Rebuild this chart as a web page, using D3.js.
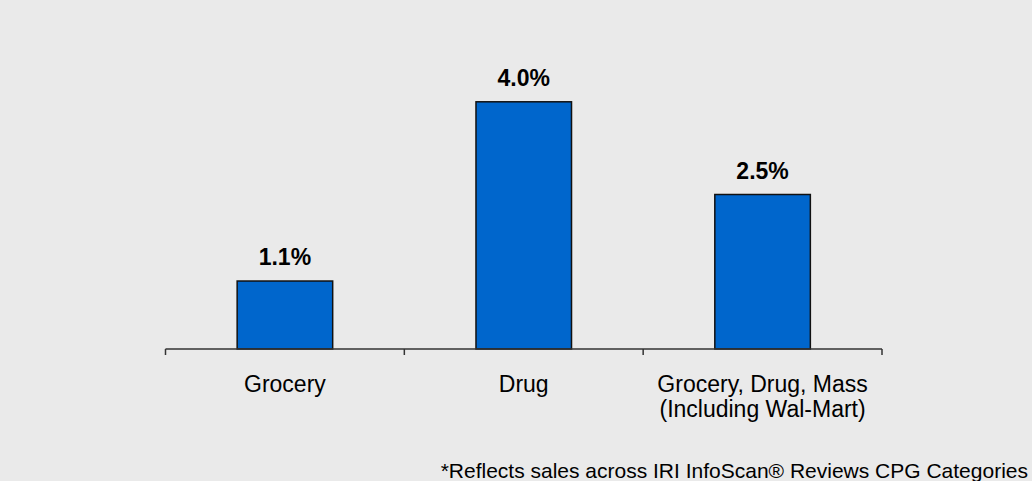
<!DOCTYPE html>
<html>
<head>
<meta charset="utf-8">
<script src="https://cdn.jsdelivr.net/npm/d3@7"></script>
<style>
  html, body { margin: 0; padding: 0; background: #eaeaea; }
  svg { display: block; font-family: Arial, "Liberation Sans", sans-serif; }
</style>
</head>
<body>
<svg id="chart" width="1032" height="481"></svg>
<script>
// Sales growth by channel
const categories = ["Grocery", "Drug", "Grocery, Drug, Mass|(Including Wal-Mart)"];
const growth = [1.1, 4.0, 2.5];
const valueLabels = ["1.1%", "4.0%", "2.5%"];
const footnote = "*Reflects sales across IRI InfoScan\u00AE Reviews CPG Categories";

const W = 1032, H = 481;
const svg = d3.select("#chart");

svg.append("rect").attr("width", W).attr("height", H).attr("fill", "#eaeaea");

const x = d3.scaleBand()
  .domain(categories)
  .range([165.5, 882])
  .paddingInner(0.6)
  .paddingOuter(0.3);

const y = d3.scaleLinear()
  .domain([0, 5])
  .range([349, 40]);

const data = categories.map((c, i) => ({ cat: c, v: growth[i], label: valueLabels[i] }));

// Bars
svg.selectAll("rect.bar")
  .data(data)
  .join("rect")
  .attr("class", "bar")
  .attr("x", d => x(d.cat))
  .attr("width", x.bandwidth())
  .attr("y", d => y(d.v))
  .attr("height", d => y(0) - y(d.v))
  .attr("fill", "#0066cc")
  .attr("stroke", "#111")
  .attr("stroke-width", 1.5);

// Value labels
svg.selectAll("text.val")
  .data(data)
  .join("text")
  .attr("class", "val")
  .attr("x", d => x(d.cat) + x.bandwidth() / 2)
  .attr("y", d => y(d.v) - 16)
  .attr("text-anchor", "middle")
  .attr("font-size", 23)
  .attr("font-weight", "bold")
  .attr("fill", "#000")
  .text(d => d.label);

// Category axis with ticks at group boundaries
const r0 = x.range()[0], r1 = x.range()[1];
const g = svg.append("g");
g.append("line")
  .attr("x1", r0).attr("x2", r1)
  .attr("y1", y(0)).attr("y2", y(0))
  .attr("stroke", "#333").attr("stroke-width", 1.5);
const bounds = d3.range(categories.length + 1).map(i => r0 + i * x.step());
g.selectAll("line.tick")
  .data(bounds)
  .join("line")
  .attr("class", "tick")
  .attr("x1", d => d).attr("x2", d => d)
  .attr("y1", y(0)).attr("y2", y(0) + 6)
  .attr("stroke", "#333").attr("stroke-width", 1.5);

// Category labels
const catText = g.selectAll("text.cat")
  .data(data)
  .join("text")
  .attr("class", "cat")
  .attr("x", d => x(d.cat) + x.bandwidth() / 2)
  .attr("y", y(0) + 43)
  .attr("text-anchor", "middle")
  .attr("font-size", 23)
  .attr("fill", "#000");
catText.selectAll("tspan")
  .data(d => d.cat.split("|").map(s => ({ s, xx: x(d.cat) + x.bandwidth() / 2 })))
  .join("tspan")
  .attr("x", t => t.xx)
  .attr("dy", (t, i) => i === 0 ? 0 : 25)
  .text(t => t.s);

// Footnote
svg.append("text")
  .attr("x", 1028)
  .attr("y", 478)
  .attr("text-anchor", "end")
  .attr("font-size", 21)
  .attr("fill", "#000")
  .text(footnote);
</script>
</body>
</html>
